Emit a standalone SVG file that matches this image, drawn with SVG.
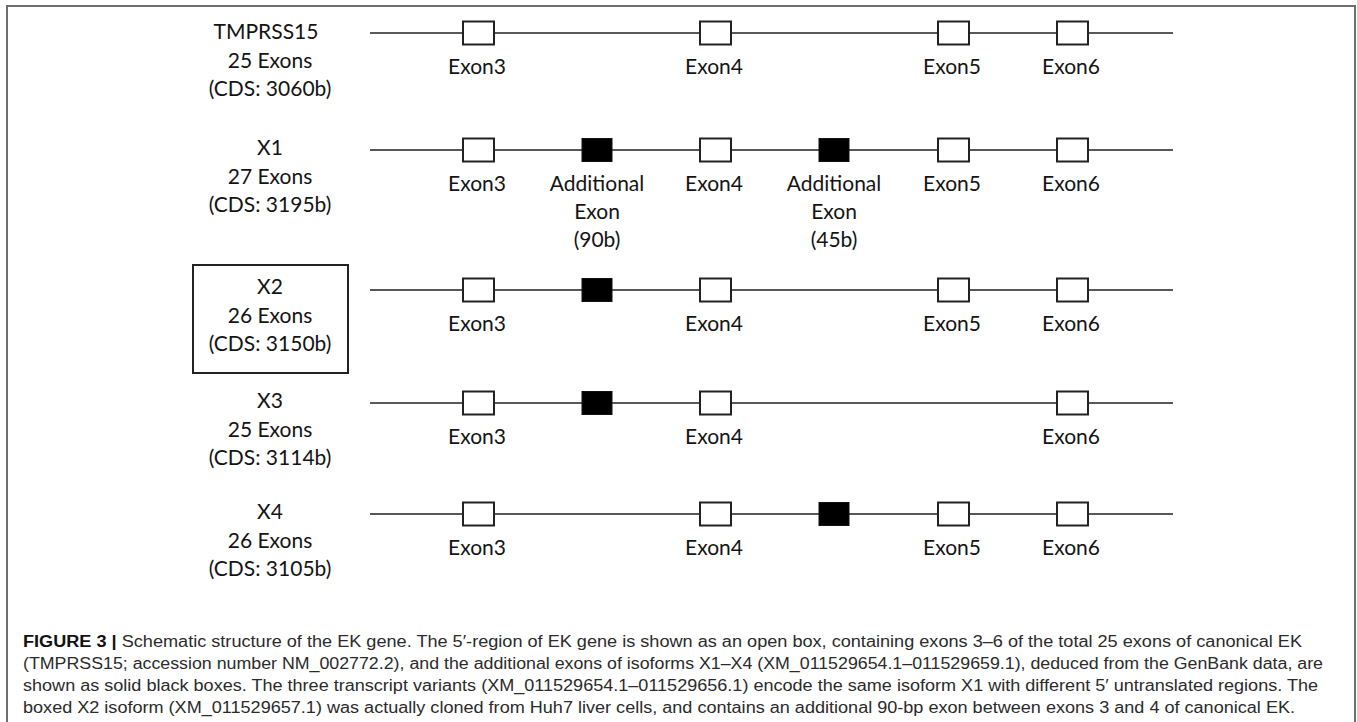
<svg xmlns="http://www.w3.org/2000/svg" width="1357" height="722" viewBox="0 0 1357 722">
<style>
.bg{fill:#fff}
.frame{fill:none;stroke:#6e6e6e;stroke-width:2}
.t{font-family:Lato,"Open Sans","Liberation Sans",sans-serif;font-size:21px;fill:#141414;text-anchor:middle}
.ln{stroke:#222;stroke-width:1.6;fill:none}
.ex{fill:#fff;stroke:#222;stroke-width:2}
.ax{fill:#000;stroke:#111;stroke-width:1}
.lbox{fill:none;stroke:#222;stroke-width:2}
.cap{font-family:"Liberation Sans",Arial,sans-serif;font-size:16px;fill:#2b2b2b}
.b{font-weight:bold;fill:#111}
</style>
<rect class="bg" x="0" y="0" width="1357" height="722"/>
<rect class="frame" x="7" y="6" width="1348" height="740"/>

<g id="connectors">
<line class="ln" x1="370" y1="33" x2="1173" y2="33"/>
<line class="ln" x1="370" y1="150" x2="1173" y2="150"/>
<line class="ln" x1="370" y1="290" x2="1173" y2="290"/>
<line class="ln" x1="370" y1="403" x2="1173" y2="403"/>
<line class="ln" x1="370" y1="514" x2="1173" y2="514"/>
</g>

<!-- Row labels -->
<g id="label-tmprss15">
<text class="t" x="266" y="39">TMPRSS15</text>
<text class="t" x="270" y="68">25 Exons</text>
<text class="t" x="270" y="96">(CDS: 3060b)</text>
</g>
<g id="label-x1">
<text class="t" x="270" y="155">X1</text>
<text class="t" x="270" y="184">27 Exons</text>
<text class="t" x="270" y="212">(CDS: 3195b)</text>
</g>
<g id="label-x2">
<rect class="lbox" x="193" y="265" width="155" height="108"/>
<text class="t" x="270" y="294">X2</text>
<text class="t" x="270" y="323">26 Exons</text>
<text class="t" x="270" y="351">(CDS: 3150b)</text>
</g>
<g id="label-x3">
<text class="t" x="270" y="408">X3</text>
<text class="t" x="270" y="437">25 Exons</text>
<text class="t" x="270" y="465">(CDS: 3114b)</text>
</g>
<g id="label-x4">
<text class="t" x="270" y="519">X4</text>
<text class="t" x="270" y="548">26 Exons</text>
<text class="t" x="270" y="576">(CDS: 3105b)</text>
</g>

<!-- TMPRSS15 row -->
<g id="tm-exon3"><rect class="ex" x="463" y="21.5" width="31" height="23"/><text class="t" x="477" y="74">Exon3</text></g>
<g id="tm-exon4"><rect class="ex" x="700" y="21.5" width="31" height="23"/><text class="t" x="714" y="74">Exon4</text></g>
<g id="tm-exon5"><rect class="ex" x="938" y="21.5" width="31" height="23"/><text class="t" x="952" y="74">Exon5</text></g>
<g id="tm-exon6"><rect class="ex" x="1057" y="21.5" width="31" height="23"/><text class="t" x="1071" y="74">Exon6</text></g>

<!-- X1 row -->
<g id="x1-exon3"><rect class="ex" x="463" y="138.5" width="31" height="23"/><text class="t" x="477" y="191">Exon3</text></g>
<g id="x1-add90"><rect class="ax" x="582" y="138.5" width="30" height="23"/><text class="t" x="597" y="191">Additional</text><text class="t" x="597" y="219">Exon</text><text class="t" x="597" y="247">(90b)</text></g>
<g id="x1-exon4"><rect class="ex" x="700" y="138.5" width="31" height="23"/><text class="t" x="714" y="191">Exon4</text></g>
<g id="x1-add45"><rect class="ax" x="819" y="138.5" width="30" height="23"/><text class="t" x="834" y="191">Additional</text><text class="t" x="834" y="219">Exon</text><text class="t" x="834" y="247">(45b)</text></g>
<g id="x1-exon5"><rect class="ex" x="938" y="138.5" width="31" height="23"/><text class="t" x="952" y="191">Exon5</text></g>
<g id="x1-exon6"><rect class="ex" x="1057" y="138.5" width="31" height="23"/><text class="t" x="1071" y="191">Exon6</text></g>

<!-- X2 row -->
<g id="x2-exon3"><rect class="ex" x="463" y="278.5" width="31" height="23"/><text class="t" x="477" y="331">Exon3</text></g>
<g id="x2-add90"><rect class="ax" x="582" y="278.5" width="30" height="23"/></g>
<g id="x2-exon4"><rect class="ex" x="700" y="278.5" width="31" height="23"/><text class="t" x="714" y="331">Exon4</text></g>
<g id="x2-exon5"><rect class="ex" x="938" y="278.5" width="31" height="23"/><text class="t" x="952" y="331">Exon5</text></g>
<g id="x2-exon6"><rect class="ex" x="1057" y="278.5" width="31" height="23"/><text class="t" x="1071" y="331">Exon6</text></g>

<!-- X3 row -->
<g id="x3-exon3"><rect class="ex" x="463" y="391.5" width="31" height="23"/><text class="t" x="477" y="444">Exon3</text></g>
<g id="x3-add90"><rect class="ax" x="582" y="391.5" width="30" height="23"/></g>
<g id="x3-exon4"><rect class="ex" x="700" y="391.5" width="31" height="23"/><text class="t" x="714" y="444">Exon4</text></g>
<g id="x3-exon6"><rect class="ex" x="1057" y="391.5" width="31" height="23"/><text class="t" x="1071" y="444">Exon6</text></g>

<!-- X4 row -->
<g id="x4-exon3"><rect class="ex" x="463" y="502.5" width="31" height="23"/><text class="t" x="477" y="555">Exon3</text></g>
<g id="x4-exon4"><rect class="ex" x="700" y="502.5" width="31" height="23"/><text class="t" x="714" y="555">Exon4</text></g>
<g id="x4-add45"><rect class="ax" x="819" y="502.5" width="30" height="23"/></g>
<g id="x4-exon5"><rect class="ex" x="938" y="502.5" width="31" height="23"/><text class="t" x="952" y="555">Exon5</text></g>
<g id="x4-exon6"><rect class="ex" x="1057" y="502.5" width="31" height="23"/><text class="t" x="1071" y="555">Exon6</text></g>

<!-- Caption -->
<g id="caption">
<text class="cap" x="23" y="647" textLength="1279" lengthAdjust="spacingAndGlyphs"><tspan class="b">FIGURE 3 |</tspan> Schematic structure of the EK gene. The 5′-region of EK gene is shown as an open box, containing exons 3–6 of the total 25 exons of canonical EK</text>
<text class="cap" x="23" y="669" textLength="1300" lengthAdjust="spacingAndGlyphs">(TMPRSS15; accession number NM_002772.2), and the additional exons of isoforms X1–X4 (XM_011529654.1–011529659.1), deduced from the GenBank data, are</text>
<text class="cap" x="23" y="691" textLength="1295" lengthAdjust="spacingAndGlyphs">shown as solid black boxes. The three transcript variants (XM_011529654.1–011529656.1) encode the same isoform X1 with different 5′ untranslated regions. The</text>
<text class="cap" x="23" y="713" textLength="1272" lengthAdjust="spacingAndGlyphs">boxed X2 isoform (XM_011529657.1) was actually cloned from Huh7 liver cells, and contains an additional 90-bp exon between exons 3 and 4 of canonical EK.</text>
</g>
</svg>
